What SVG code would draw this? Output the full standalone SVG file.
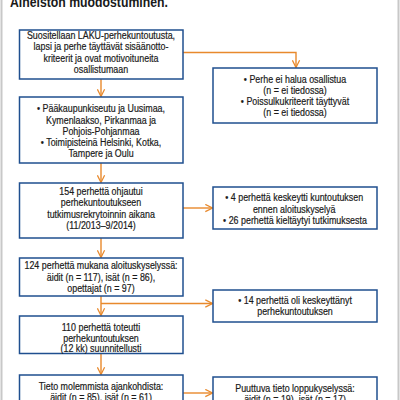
<svg xmlns="http://www.w3.org/2000/svg" width="400" height="400" viewBox="0 0 400 400">
<style>
.box{fill:#fff;stroke:#1f4f8f;stroke-width:1.5}
.t{font-family:"Liberation Sans",Arial,sans-serif;font-size:10.6px;fill:#1a1a1a;stroke:#1a1a1a;stroke-width:0.2;text-anchor:middle}
.c{fill:none;stroke:#e8892c;stroke-width:1.4}
.title{font-family:"Liberation Sans",Arial,sans-serif;font-size:14.6px;font-weight:bold;fill:#1a1a1a}
</style>
<defs>
<marker id="ar" viewBox="0 0 10 10" refX="9" refY="5" markerWidth="9" markerHeight="9" markerUnits="userSpaceOnUse" orient="auto">
<path d="M1,1 L9,5 L1,9" fill="none" stroke="#e8892c" stroke-width="1.4"/>
</marker>
</defs>
<rect x="0" y="0" width="400" height="400" fill="#fff"/>
<line x1="1.5" y1="0" x2="1.5" y2="400" stroke="#c8c8c8" stroke-width="2"/>
<line x1="398.5" y1="0" x2="398.5" y2="400" stroke="#c8c8c8" stroke-width="2"/>
<g transform="translate(10 0) scale(0.84 1)">
<text class="title" x="0" y="7">Aineiston muodostuminen.</text>
</g>

<g id="connectors">
<path class="c" d="M183,52.5 H296 V67.5" marker-end="url(#ar)"/>
<path class="c" d="M101,79 V96.5" marker-end="url(#ar)"/>
<path class="c" d="M101,163 V182.5" marker-end="url(#ar)"/>
<path class="c" d="M183,208 H212.5" marker-end="url(#ar)"/>
<path class="c" d="M101,238 V257.5" marker-end="url(#ar)"/>
<path class="c" d="M101,296 V315.5" marker-end="url(#ar)"/>
<path class="c" d="M101,303.5 H212.5" marker-end="url(#ar)"/>
<path class="c" d="M101,353 V374.5" marker-end="url(#ar)"/>
<path class="c" d="M183,393 H212.5" marker-end="url(#ar)"/>
</g>

<g id="n1">
<rect class="box" x="19.5" y="30" width="163.5" height="49"/>
<g transform="translate(101 0) scale(0.84 1)">
<text class="t" x="0" y="39">Suositellaan LAKU-perhekuntoutusta,</text>
<text class="t" x="0" y="50.5">lapsi ja perhe täyttävät sisäänotto-</text>
<text class="t" x="0" y="62">kriteerit ja ovat motivoituneita</text>
<text class="t" x="0" y="73.5">osallistumaan</text>
</g>
</g>

<g id="n2">
<rect class="box" x="19.5" y="97" width="163.5" height="66"/>
<g transform="translate(101 0) scale(0.84 1)">
<text class="t" x="0" y="112.5">• Pääkaupunkiseutu ja Uusimaa,</text>
<text class="t" x="0" y="124">Kymenlaakso, Pirkanmaa ja</text>
<text class="t" x="0" y="135">Pohjois-Pohjanmaa</text>
<text class="t" x="0" y="146.5">• Toimipisteinä Helsinki, Kotka,</text>
<text class="t" x="0" y="157.5">Tampere ja Oulu</text>
</g>
</g>

<g id="n3">
<rect class="box" x="19.5" y="183" width="163.5" height="55"/>
<g transform="translate(101 0) scale(0.84 1)">
<text class="t" x="0" y="195.5">154 perhettä ohjautui</text>
<text class="t" x="0" y="206.5">perhekuntoutukseen</text>
<text class="t" x="0" y="218">tutkimusrekrytoinnin aikana</text>
<text class="t" x="0" y="229.5">(11/2013–9/2014)</text>
</g>
</g>

<g id="n4">
<rect class="box" x="19.5" y="258" width="163.5" height="38"/>
<g transform="translate(101 0) scale(0.84 1)">
<text class="t" x="0" y="269.5">124 perhettä mukana aloituskyselyssä:</text>
<text class="t" x="0" y="281">äidit (n = 117), isät (n = 86),</text>
<text class="t" x="0" y="292">opettajat (n = 97)</text>
</g>
</g>

<g id="n5">
<rect class="box" x="19.5" y="316" width="163.5" height="37.5"/>
<g transform="translate(101 0) scale(0.84 1)">
<text class="t" x="0" y="331">110 perhettä toteutti</text>
<text class="t" x="0" y="342">perhekuntoutuksen</text>
<text class="t" x="0" y="352.5">(12 kk) suunnitellusti</text>
</g>
</g>

<g id="n6">
<rect class="box" x="19.5" y="375" width="163.5" height="40"/>
<g transform="translate(101 0) scale(0.84 1)">
<text class="t" x="0" y="390.5">Tieto molemmista ajankohdista:</text>
<text class="t" x="0" y="401.5">äidit (n = 85), isät (n = 61)</text>
</g>
</g>

<g id="r1">
<rect class="box" x="213" y="68" width="164" height="55"/>
<g transform="translate(295 0) scale(0.84 1)">
<text class="t" x="0" y="83.5">• Perhe ei halua osallistua</text>
<text class="t" x="0" y="94.5">(n = ei tiedossa)</text>
<text class="t" x="0" y="105.5">• Poissulkukriteerit täyttyvät</text>
<text class="t" x="0" y="116">(n = ei tiedossa)</text>
</g>
</g>

<g id="r2">
<rect class="box" x="213" y="187" width="164" height="42"/>
<g transform="translate(295 0) scale(0.84 1)">
<text class="t" x="-1" y="201">• 4 perhettä keskeytti kuntoutuksen</text>
<text class="t" x="-1" y="213">ennen aloituskyselyä</text>
<text class="t" x="0" y="224.5">• 26 perhettä kieltäytyi tutkimuksesta</text>
</g>
</g>

<g id="r3">
<rect class="box" x="213" y="290" width="164" height="32"/>
<g transform="translate(295 0) scale(0.84 1)">
<text class="t" x="0" y="304.5">• 14 perhettä oli keskeyttänyt</text>
<text class="t" x="0" y="315.5">perhekuntoutuksen</text>
</g>
</g>

<g id="r4">
<rect class="box" x="213" y="377" width="164" height="40"/>
<g transform="translate(295 0) scale(0.84 1)">
<text class="t" x="0" y="392">Puuttuva tieto loppukyselyssä:</text>
<text class="t" x="0" y="403">äidit (n = 19), isät (n = 17)</text>
</g>
</g>
</svg>
